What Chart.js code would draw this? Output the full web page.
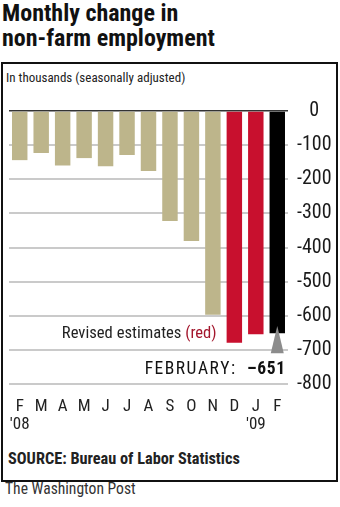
<!DOCTYPE html>
<html>
<head>
<meta charset="utf-8">
<script src="https://cdn.jsdelivr.net/npm/chart.js@4.4.1/dist/chart.umd.min.js"></script>
<style>
  body { margin: 0; width: 340px; height: 507px; background: #fff; position: relative; overflow: hidden; font-family: 'Roboto Condensed', sans-serif; color: #111; }
  .title { position: absolute; left: 2px; top: 1px; font-size: 24px; line-height: 25px; font-weight: bold; }
  .box { position: absolute; left: 1px; top: 62px; width: 333px; height: 416px; border: 2px solid #111; }
  .sub { position: absolute; left: 6px; top: 71px; font-size: 13px; line-height: 14px; color: #222; }
  .source { position: absolute; left: 8px; top: 451px; font-size: 16.3px; line-height: 15px; font-weight: bold; color: #222; }
  .credit { position: absolute; left: 5px; top: 481px; font-size: 15.6px; line-height: 16px; color: #333; }
  #wrap { position: absolute; left: 0; top: 90px; width: 340px; height: 350px; }
</style>
</head>
<body>
<div class="title">Monthly change in<br>non-farm employment</div>
<div class="box"></div>
<div class="sub">In thousands (seasonally adjusted)</div>
<div id="wrap"><canvas id="chart"></canvas></div>
<div class="source">SOURCE: Bureau of Labor Statistics</div>
<div class="credit">The Washington Post</div>

<script>
const months = ['Feb 08', 'Mar 08', 'Apr 08', 'May 08', 'Jun 08', 'Jul 08', 'Aug 08',
  'Sep 08', 'Oct 08', 'Nov 08', 'Dec 08', 'Jan 09', 'Feb 09'];
const tickLabels = [['F', "'08"], 'M', 'A', 'M', 'J', 'J', 'A', 'S', 'O', 'N', 'D', ['J', "'09"], 'F'];
const change = [-144, -123, -160, -138, -162, -129, -176, -322, -381, -597, -679, -654, -651];
const revised = ['Dec 08', 'Jan 09'];
const latest = 'Feb 09';
const yTicks = [0, -100, -200, -300, -400, -500, -600, -700, -800];

const TAN = '#bdb58b';
const RED = '#c8102e';
const FONT = "'Roboto Condensed', sans-serif";

// draw text letter by letter with extra spacing, returns width
function spaced(ctx, str, x, y, gap, draw) {
  let w = 0;
  for (const ch of str) {
    if (draw) ctx.fillText(ch, x + w, y);
    w += ctx.measureText(ch).width + gap;
  }
  return w - gap;
}

// labels drawn over the plot: revised note, february value, arrow
const notes = {
  id: 'notes',
  afterDatasetsDraw(chart) {
    const { ctx, scales: { x, y } } = chart;
    const bar = chart.getDatasetMeta(0).data;
    const last = months.indexOf(latest);
    const half = bar[last].width / 2;
    const firstRevised = months.indexOf(revised[0]);
    ctx.save();

    // Revised estimates (red)
    ctx.font = '16.6px ' + FONT;
    ctx.textBaseline = 'alphabetic';
    ctx.textAlign = 'left';
    const redW = ctx.measureText('(red)').width;
    const txt = 'Revised estimates ';
    const txtW = ctx.measureText(txt).width;
    const right = x.getPixelForValue(firstRevised) - bar[firstRevised].width / 2 - 10;
    const ty = y.getPixelForValue(-664);
    ctx.fillStyle = '#222';
    ctx.fillText(txt, right - redW - txtW, ty);
    ctx.fillStyle = '#a3162c';
    ctx.fillText('(red)', right - redW, ty);

    // arrow under the latest bar
    const cx = x.getPixelForValue(last);
    ctx.fillStyle = '#8c8c8c';
    ctx.beginPath();
    ctx.moveTo(cx, y.getPixelForValue(-630));
    ctx.lineTo(cx + 6.5, y.getPixelForValue(-710));
    ctx.lineTo(cx - 6.5, y.getPixelForValue(-710));
    ctx.closePath();
    ctx.fill();

    // FEBRUARY: -651
    const fy = y.getPixelForValue(-771);
    const fr = cx + half;
    const val = '\u2013' + Math.abs(change[last]);
    ctx.fillStyle = '#111';
    ctx.font = 'bold 17.5px ' + FONT;
    const valW = spaced(ctx, val, 0, 0, 0.6, false);
    spaced(ctx, val, fr - valW, fy, 0.6, true);
    ctx.font = '17.5px ' + FONT;
    const febW = spaced(ctx, 'FEBRUARY:', 0, 0, 1.5, false);
    spaced(ctx, 'FEBRUARY:', fr - valW - 12 - febW, fy, 1.5, true);
    ctx.restore();
  }
};

new Chart(document.getElementById('chart'), {
  type: 'bar',
  data: {
    labels: tickLabels,
    datasets: [{
      data: change,
      backgroundColor: ctx => {
        const m = months[ctx.dataIndex];
        if (m === latest) return '#000';
        if (revised.includes(m)) return RED;
        return TAN;
      },
      borderWidth: 0,
      categoryPercentage: 1,
      barPercentage: 0.72
    }]
  },
  options: {
    responsive: true,
    maintainAspectRatio: false,
    animation: false,
    layout: { padding: { left: 9, top: 17, right: 0, bottom: 0 } },
    plugins: { legend: { display: false }, tooltip: { enabled: false } },
    scales: {
      x: {
        grid: { display: false },
        border: { display: false },
        ticks: {
          autoSkip: false,
          maxRotation: 0,
          padding: 6,
          color: '#222',
          font: { family: FONT, size: 17, lineHeight: 1.06 }
        },
        afterFit: s => { s.height = 56; }
      },
      y: {
        position: 'right',
        min: -800,
        max: 0,
        afterBuildTicks: s => { s.ticks = yTicks.map(v => ({ value: v })); },
        grid: {
          drawTicks: false,
          color: c => c.tick && c.tick.value === 0 ? '#333' : '#cacaca',
          lineWidth: c => c.tick && c.tick.value === 0 ? 1.5 : 2
        },
        border: { display: false },
        ticks: {
          crossAlign: 'center',
          padding: 9,
          color: '#1a1a1a',
          font: { family: FONT, size: 20 }
        },
        afterFit: s => { s.width = 52; }
      }
    }
  },
  plugins: [notes]
});
</script>
</body>
</html>
